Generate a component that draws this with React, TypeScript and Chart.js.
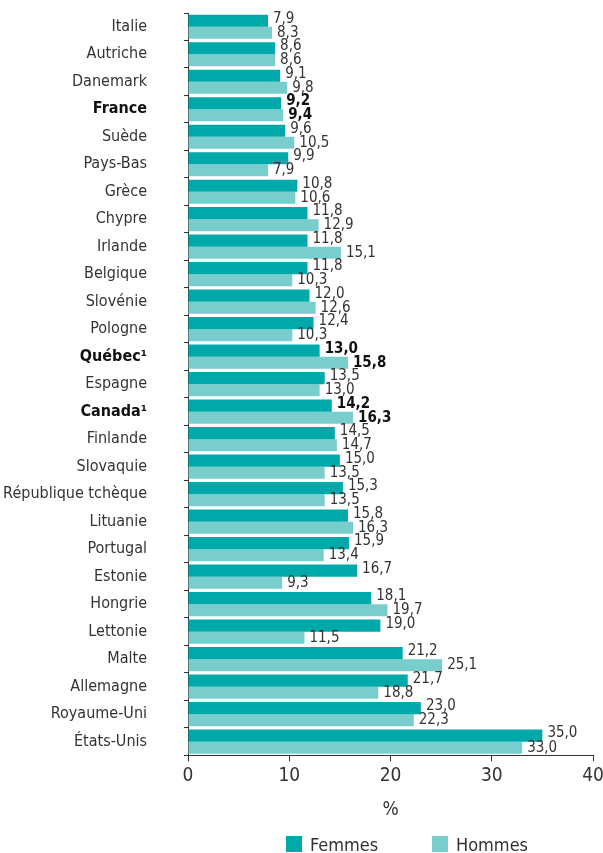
import React, { useEffect, useRef } from "react";
import { Chart, registerables } from "chart.js";
Chart.register(...registerables);

const categories = ["Italie","Autriche","Danemark","France","Suède","Pays-Bas","Grèce","Chypre","Irlande","Belgique","Slovénie","Pologne","Québec¹","Espagne","Canada¹","Finlande","Slovaquie","République tchèque","Lituanie","Portugal","Estonie","Hongrie","Lettonie","Malte","Allemagne","Royaume-Uni","États-Unis"];
const femmes = [7.9,8.6,9.1,9.2,9.6,9.9,10.8,11.8,11.8,11.8,12.0,12.4,13.0,13.5,14.2,14.5,15.0,15.3,15.8,15.9,16.7,18.1,19.0,21.2,21.7,23.0,35.0];
const hommes = [8.3,8.6,9.8,9.4,10.5,7.9,10.6,12.9,15.1,10.3,12.6,10.3,15.8,13.0,16.3,14.7,13.5,13.5,16.3,13.4,9.3,19.7,11.5,25.1,18.8,22.3,33.0];
const seriesNames = ["Femmes", "Hommes"];
const boldCategories = ["France","Québec¹","Canada¹"];
const xTicks = [0,10,20,30,40];

const FONT = "'Liberation Sans Narrow', 'DejaVu Sans Condensed', 'Open Sans', sans-serif";
const TEXT = "#333333";
const DARK = "#00a9a9";
const LIGHT = "#79cdcd";
const colors = [DARK, LIGHT];

const fmt = (v: number) => v.toFixed(1).replace(".", ",");

const labelPlugin = {
  id: "valueLabels",
  afterDatasetsDraw(chart: any) {
    const ctx = chart.ctx;
    ctx.save();
    ctx.textBaseline = "middle";
    ctx.textAlign = "left";
    chart.data.datasets.forEach((ds: any, di: number) => {
      const meta = chart.getDatasetMeta(di);
      meta.data.forEach((bar: any, i: number) => {
        const bold = boldCategories.includes(categories[i]);
        ctx.font = `${bold ? "bold " : ""}15px ${FONT}`;
        ctx.fillStyle = bold ? "#111" : TEXT;
        const y = bar.y + (di === 0 ? -2 : 0);
        ctx.fillText(fmt(ds.data[i]), bar.x + 5, y);
      });
    });
    ctx.restore();
  },
};

export default function App() {
  const ref = useRef<HTMLCanvasElement>(null);
  useEffect(() => {
    const chart = new Chart(ref.current!, {
      type: "bar",
      data: {
        labels: categories,
        datasets: [
          { label: seriesNames[0], data: femmes, backgroundColor: DARK, categoryPercentage: 0.88, barPercentage: 1.0 },
          { label: seriesNames[1], data: hommes, backgroundColor: LIGHT, categoryPercentage: 0.88, barPercentage: 1.0 },
        ],
      },
      plugins: [labelPlugin],
      options: {
        indexAxis: "y",
        animation: false,
        responsive: false,
        maintainAspectRatio: false,
        layout: { padding: { top: 13, right: 10, left: 0, bottom: 32 } },
        plugins: {
          tooltip: { enabled: false },
          legend: { display: false },
        },
        scales: {
          x: {
            min: 0,
            max: 40,
            afterBuildTicks: (s: any) => { s.ticks = xTicks.map((v) => ({ value: v })); },
            afterFit: (s: any) => { s.paddingRight = 0; s.paddingLeft = 0; },
            grid: { display: true, drawOnChartArea: false, drawTicks: true, tickLength: 6, color: TEXT },
            border: { display: true, color: TEXT, width: 1 },
            ticks: { color: TEXT, font: { family: FONT, size: 19 }, padding: 3 },
            title: { display: true, text: "%", color: TEXT, font: { family: FONT, size: 19 }, padding: { top: 8, bottom: 0 } },
          },
          y: {
            afterFit: (s: any) => { s.width = 188; s.paddingTop = 0; s.paddingBottom = 0; },
            grid: { display: true, drawOnChartArea: false, drawTicks: true, tickLength: 4, color: TEXT, offset: true },
            border: { display: true, color: TEXT, width: 1 },
            ticks: {
              color: (c: any) => boldCategories.includes(categories[c.index]) ? "#111" : TEXT,
              font: (c: any) => ({ family: FONT, size: 16, weight: boldCategories.includes(categories[c.index]) ? "bold" : "normal" }),
              padding: 37,
              autoSkip: false,
            },
          },
        },
      },
    } as any);
    return () => chart.destroy();
  }, []);
  const legendPos = [286, 432];
  return (
    <div style={{ position: "absolute", left: 0, top: 0, width: 603, height: 853, background: "#fff" }}>
      <canvas ref={ref} width={603} height={853} />
      {seriesNames.map((n, i) => (
        <div key={n} style={{ position: "absolute", left: legendPos[i], top: 834, height: 20, display: "flex", alignItems: "center", fontFamily: FONT, fontSize: 18, color: TEXT }}>
          <span style={{ display: "inline-block", width: 16, height: 16, background: colors[i], marginRight: 8 }} />
          <span>{n}</span>
        </div>
      ))}
    </div>
  );
}
